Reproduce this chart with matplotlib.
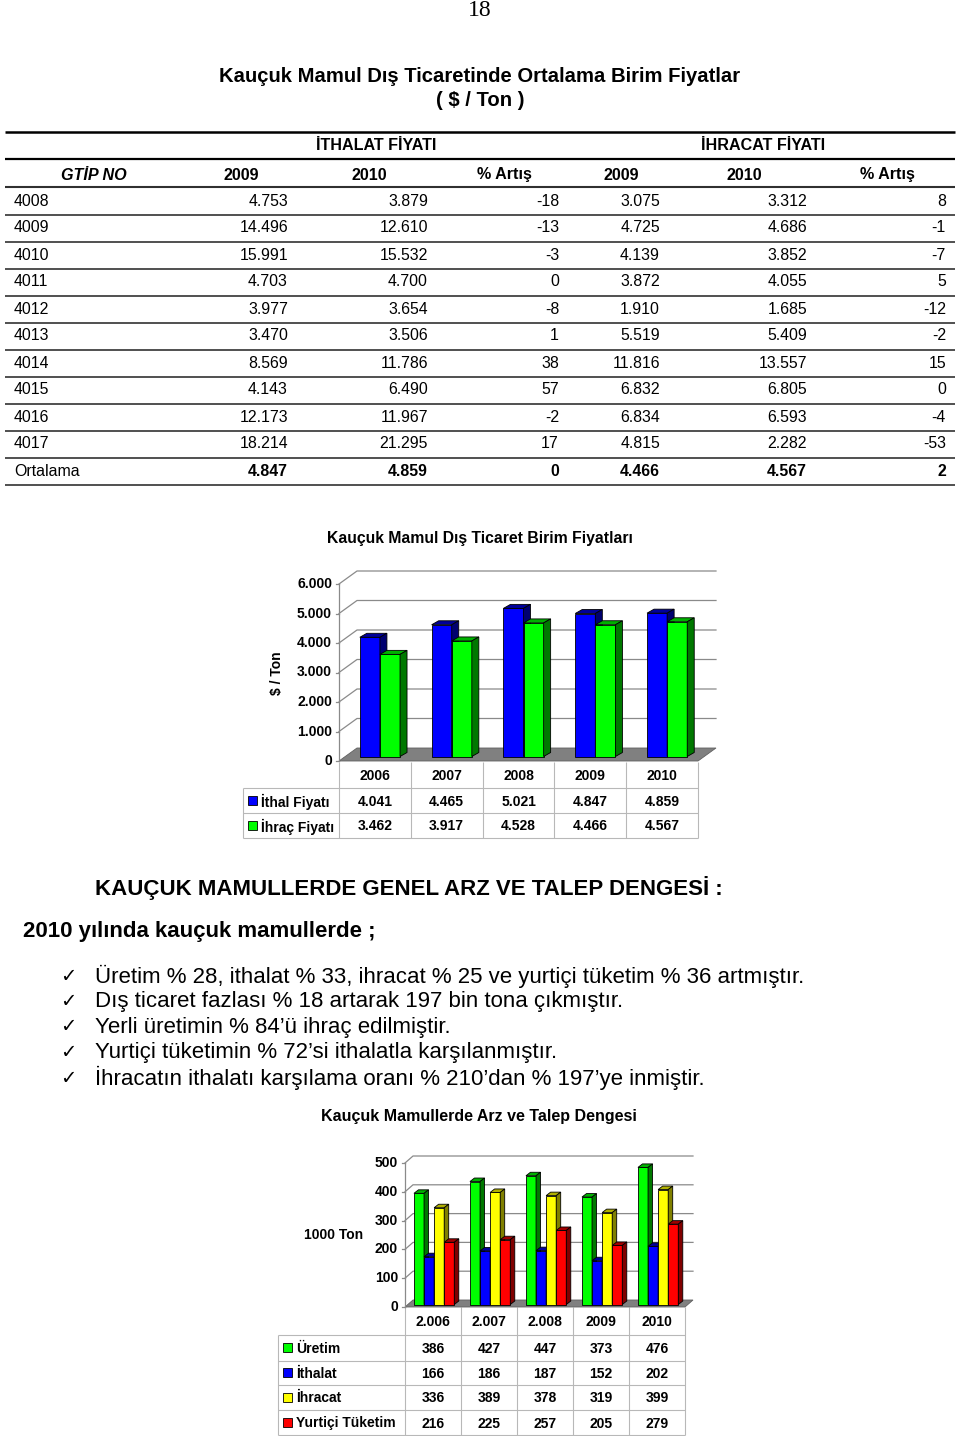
import matplotlib
matplotlib.use('Agg')
import matplotlib.pyplot as plt
from matplotlib.patches import Polygon
from matplotlib.lines import Line2D
import numpy as np

# ---------------- DATA ----------------
gtip_codes = ['4008', '4009', '4010', '4011', '4012', '4013', '4014', '4015',
              '4016', '4017', 'Ortalama']
ithal_2009 = [4753, 14496, 15991, 4703, 3977, 3470, 8569, 4143, 12173, 18214, 4847]
ithal_2010 = [3879, 12610, 15532, 4700, 3654, 3506, 11786, 6490, 11967, 21295, 4859]
ithal_pct = [-18, -13, -3, 0, -8, 1, 38, 57, -2, 17, 0]
ihrac_2009 = [3075, 4725, 4139, 3872, 1910, 5519, 11816, 6832, 6834, 4815, 4466]
ihrac_2010 = [3312, 4686, 3852, 4055, 1685, 5409, 13557, 6805, 6593, 2282, 4567]
ihrac_pct = [8, -1, -7, 5, -12, -2, 15, 0, -4, -53, 2]
table_headers = ['GTİP NO', '2009', '2010', '% Artış', '2009', '2010', '% Artış']

price_years = ['2006', '2007', '2008', '2009', '2010']
ithal_fiyati = [4041, 4465, 5021, 4847, 4859]
ihrac_fiyati = [3462, 3917, 4528, 4466, 4567]
price_ticks = [0, 1000, 2000, 3000, 4000, 5000, 6000]
price_labels = ['İthal Fiyatı', 'İhraç Fiyatı']

supply_years = ['2.006', '2.007', '2.008', '2009', '2010']
uretim = [386, 427, 447, 373, 476]
ithalat = [166, 186, 187, 152, 202]
ihracat = [336, 389, 378, 319, 399]
yurtici = [216, 225, 257, 205, 279]
supply_ticks = [0, 100, 200, 300, 400, 500]
supply_labels = ['Üretim', 'İthalat', 'İhracat', 'Yurtiçi Tüketim']

bullets = [
    'Üretim % 28, ithalat % 33, ihracat % 25 ve yurtiçi tüketim % 36 artmıştır.',
    'Dış ticaret fazlası % 18 artarak 197 bin tona çıkmıştır.',
    'Yerli üretimin % 84’ü ihraç edilmiştir.',
    'Yurtiçi tüketimin % 72’si ithalatla karşılanmıştır.',
    'İhracatın ithalatı karşılama oranı % 210’dan % 197’ye inmiştir.',
]


def tr(v):
    return f"{v:,}".replace(',', '.')


# ---------------- PAGE ----------------
W, H = 960, 1436
plt.rcParams['font.family'] = ['Liberation Sans', 'DejaVu Sans']
fig = plt.figure(figsize=(W / 100, H / 100), dpi=100)
page = fig.add_axes([0, 0, 1, 1])
page.set_xlim(0, W)
page.set_ylim(H, 0)
page.axis('off')


def T(x, y, s, size=11.3, weight='normal', ha='left', style='normal', **kw):
    page.text(x, y, s, fontsize=size, fontweight=weight, ha=ha, va='center',
              fontstyle=style, **kw)


def L(x0, x1, y0, y1, color='black', lw=1.0):
    page.add_line(Line2D([x0, x1], [y0, y1], color=color, lw=lw,
                         solid_capstyle='butt'))


T(480, 10, '18', size=17, ha='center', family=['Liberation Serif', 'DejaVu Serif'])
T(480, 77, 'Kauçuk Mamul Dış Ticaretinde Ortalama Birim Fiyatlar', 14.6, 'bold', 'center')
T(480, 100, '( $ / Ton )', 14.6, 'bold', 'center')

# price table
L(5, 955, 132, 132, lw=1.8)
T(376, 146, 'İTHALAT FİYATI', 11.6, 'bold', 'center')
T(763, 146, 'İHRACAT FİYATI', 11.6, 'bold', 'center')
L(5, 955, 159, 159, lw=1.6)
head_x = [94, 241, 369, 504, 621, 744, 887]
for i, (hx, hs) in enumerate(zip(head_x, table_headers)):
    T(hx, 175, hs, 11.6, 'bold', 'center', style='italic' if i == 0 else 'normal')
L(5, 955, 187, 187, color='#303030', lw=1.5)
col_right = [288, 428, 559, 660, 807, 946]
for r, code in enumerate(gtip_codes):
    y = 201 + 27 * r
    wt = 'bold' if code == 'Ortalama' else 'normal'
    T(14, y, code, 11.4)
    vals = [tr(ithal_2009[r]), tr(ithal_2010[r]), str(ithal_pct[r]),
            tr(ihrac_2009[r]), tr(ihrac_2010[r]), str(ihrac_pct[r])]
    for xr, s in zip(col_right, vals):
        T(xr, y, s, 11.4, wt, 'right')
    L(5, 955, y + 13.5, y + 13.5, color='#505050', lw=1.4)


# ---------------- 3D-LOOK BAR CHART ----------------
def bar3d_chart(left, right, top, zero, ticks, n, series, colors, xoffs, width,
                wall, lift, depth, tick_fs=10):
    ymax = ticks[-1]
    ax = fig.add_axes([left / W, 1 - zero / H, (right - left) / W, (zero - top) / H])
    ax.set_xlim(-0.5, n - 0.5)
    ax.set_ylim(0, ymax)
    ax.axis('off')
    sx = n / (right - left)
    sy = ymax / (zero - top)
    wdx, wdy = wall[0] * sx, wall[1] * sy
    x0, x1 = -0.5, n - 0.5
    ax.add_patch(Polygon([(x0, 0), (x1, 0), (x1 + wdx, wdy), (x0 + wdx, wdy)],
                         closed=True, fc='#808080', ec='#606060', lw=0.6,
                         clip_on=False, zorder=1))
    for v in ticks[1:]:
        ax.add_line(Line2D([x0, x0 + wdx, x1 + wdx], [v, v + wdy, v + wdy],
                           color='#8a8a8a', lw=0.9, clip_on=False, zorder=1))
    ax.add_line(Line2D([x0, x0], [0, ymax], color='#8a8a8a', lw=0.9,
                       clip_on=False, zorder=2))
    for v in ticks:
        ax.add_line(Line2D([x0 - 3 * sx, x0], [v, v], color='#8a8a8a', lw=0.9,
                           clip_on=False, zorder=2))
        ax.text(x0 - 7 * sx, v, tr(v), ha='right', va='center',
                fontsize=tick_fs, fontweight='bold')
    bdx, bdy = depth[0] * sx, depth[1] * sy
    base = lift * sy
    for k, (vals, (cf, ct, cs)) in enumerate(zip(series, colors)):
        xs = np.arange(n) + xoffs[k]
        bars = ax.bar(xs, vals, width=width, bottom=base, align='edge', color=cf,
                      edgecolor='black', linewidth=0.6, zorder=3 + k, clip_on=False)
        for b in bars:
            bx, by, bw, bh = b.get_x(), b.get_y(), b.get_width(), b.get_height()
            topf = [(bx, by + bh), (bx + bw, by + bh), (bx + bw + bdx, by + bh + bdy),
                    (bx + bdx, by + bh + bdy)]
            side = [(bx + bw, by), (bx + bw + bdx, by + bdy),
                    (bx + bw + bdx, by + bh + bdy), (bx + bw, by + bh)]
            ax.add_patch(Polygon(topf, closed=True, fc=ct, ec='black', lw=0.6,
                                 zorder=3 + k, clip_on=False))
            ax.add_patch(Polygon(side, closed=True, fc=cs, ec='black', lw=0.6,
                                 zorder=3 + k, clip_on=False))
    return ax


def data_table(left, right, legend_left, row_edges, years, rows, labels, colors,
               fs=10):
    n = len(years)
    cw = (right - left) / n
    gc = '#b8b8b8'
    for i in range(n + 1):
        L(left + i * cw, left + i * cw, row_edges[0], row_edges[-1], gc, 0.8)
    for ye in row_edges[1:]:
        L(legend_left, right, ye, ye, gc, 0.8)
    L(legend_left, legend_left, row_edges[1], row_edges[-1], gc, 0.8)
    yc = [(a + b) / 2 for a, b in zip(row_edges[:-1], row_edges[1:])]
    for i, yr in enumerate(years):
        T(left + (i + 0.5) * cw, yc[0] + 1, yr, fs, 'bold', 'center')
    for r, (vals, lab, col) in enumerate(zip(rows, labels, colors)):
        y = yc[r + 1]
        page.add_patch(plt.Rectangle((legend_left + 5, y - 5), 9, 9, fc=col,
                                     ec='black', lw=0.6))
        T(legend_left + 18, y + 1, lab, fs, 'bold')
        for i, v in enumerate(vals):
            T(left + (i + 0.5) * cw, y + 1, tr(v), fs, 'bold', 'center')


BLUE = ('#0000ff', '#000099', '#000070')
GREEN = ('#00ff00', '#00b000', '#007800')
YELLOW = ('#ffff00', '#b0b000', '#808000')
RED = ('#ff0000', '#a00000', '#800000')

# chart 1
T(480, 538, 'Kauçuk Mamul Dış Ticaret Birim Fiyatları', 11.3, 'bold', 'center')
page.text(277, 673, '$ / Ton', fontsize=10, fontweight='bold', rotation=90,
          ha='center', va='center')
bar3d_chart(339, 698, 584, 761, price_ticks, len(price_years),
            [ithal_fiyati, ihrac_fiyati], [BLUE, GREEN], [-0.21, 0.07], 0.28,
            wall=(18, 13), lift=4.5, depth=(7, 4))
data_table(339, 698, 243, [762, 788, 813, 838], price_years,
           [ithal_fiyati, ihrac_fiyati], price_labels, [BLUE[0], GREEN[0]])

# text section
T(95, 888, 'KAUÇUK MAMULLERDE GENEL ARZ VE TALEP DENGESİ :', 16, 'bold')
T(23, 932, '2010 yılında kauçuk mamullerde ;', 16, 'bold')
for i, b in enumerate(bullets):
    y = 976 + 25.5 * i
    page.text(68, y, '✓', fontsize=14, ha='center', va='center',
              family=['DejaVu Sans'])
    T(95, y, b, 16)

# chart 2
T(479, 1117, 'Kauçuk Mamullerde Arz ve Talep Dengesi', 11.5, 'bold', 'center')
T(334, 1235, '1000 Ton', 10, 'bold', 'center')
bar3d_chart(405, 685, 1163, 1307, supply_ticks, len(supply_years),
            [uretim, ithalat, ihracat, yurtici], [GREEN, BLUE, YELLOW, RED],
            [-0.34, -0.16, 0.02, 0.20], 0.18,
            wall=(8, 7), lift=2.5, depth=(4.5, 3.5))
data_table(405, 685, 278, [1307, 1335, 1361, 1385, 1410, 1435], supply_years,
           [uretim, ithalat, ihracat, yurtici], supply_labels,
           [GREEN[0], BLUE[0], YELLOW[0], RED[0]])

fig.savefig('out.png', dpi=100, facecolor='white')
